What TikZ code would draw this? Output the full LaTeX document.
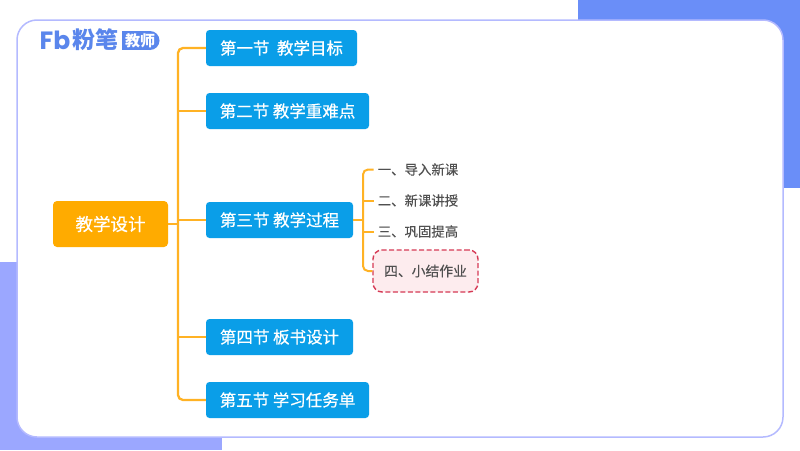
\documentclass[tikz,border=0pt]{standalone}
\usepackage{fontspec}
\setmainfont{Noto Sans CJK SC}
\newfontfamily\medfont[FakeBold=0.6]{Noto Sans CJK SC}
\newfontfamily\subfont[FakeBold=0.25]{Noto Sans CJK SC}
\newfontfamily\logofont{Poppins}
\definecolor{bandblue}{HTML}{6A8EF8}
\definecolor{bandviolet}{HTML}{9BA7FF}
\definecolor{cardline}{HTML}{B4BAFF}
\definecolor{secblue}{HTML}{0A9EE8}
\definecolor{rootorange}{HTML}{FFAB00}
\definecolor{linkorange}{HTML}{FFB224}
\definecolor{logoblue}{HTML}{5A86EC}
\definecolor{textgray}{HTML}{505050}
\definecolor{notered}{HTML}{D63A55}
\definecolor{notefill}{HTML}{FDECEE}
\tikzset{
	secnode/.style={fill=secblue,text=white,rounded corners=3.5pt,inner sep=0pt,minimum height=36pt,font=\medfont\fontsize{16.5}{19}\selectfont},
	rootnode/.style={fill=rootorange,text=white,rounded corners=4pt,inner sep=0pt,minimum width=115pt,minimum height=46pt,font=\medfont\fontsize{17.5}{20}\selectfont},
	subnode/.style={text=textgray,inner sep=0pt,font=\subfont\fontsize{13.4}{16}\selectfont},
	notenode/.style={subnode,draw=notered,fill=notefill,dash pattern=on 5pt off 2.5pt,line width=1.4pt,rounded corners=9pt,minimum width=105pt,minimum height=42pt,font=\subfont\fontsize{13.8}{16}\selectfont},
	link/.style={draw=linkorange,line width=2.3pt,rounded corners=5pt},
	sublink/.style={link,line width=2pt},
}
\begin{document}
\begin{tikzpicture}[x=1pt,y=-1pt]
	\useasboundingbox (0,0) rectangle (800,450);
	\fill[white] (0,0) rectangle (800,450);
	\fill[bandblue] (578,0) rectangle (800,188);
	\fill[bandviolet] (0,262) rectangle (222,450);
	\draw[cardline,fill=white,line width=1.5pt,rounded corners=20pt] (17,20) rectangle (783,437);
	% logo
	\node[text=logoblue,inner sep=0pt,font=\logofont\fontsize{25}{25}\selectfont\bfseries] (logofb) at (55,40) {Fb};
	\node[text=logoblue,inner sep=0pt,font=\fontsize{23}{23}\selectfont\bfseries] (logoname) at (95,40) {粉笔};
	\fill[logoblue] (122,31) rectangle (150,50);
	\fill[logoblue] (150,40.5) circle[radius=9.5];
	\node[text=white,inner sep=0pt,font=\fontsize{15}{15}\selectfont\bfseries] (logotag) at (140,40.5) {教师};
	% first level
	\node[rootnode] (root) at (110.5,224) {教学设计};
	\node[secnode,minimum width=151pt] (sec1) at (281.5,48) {第一节\ \ 教学目标};
	\node[secnode,minimum width=163pt] (sec2) at (287.5,111) {第二节 教学重难点};
	\node[secnode,minimum width=147pt] (sec3) at (279.5,220) {第三节 教学过程};
	\node[secnode,minimum width=147pt] (sec4) at (279.5,337) {第四节 板书设计};
	\node[secnode,minimum width=163pt] (sec5) at (287.5,400) {第五节 学习任务单};
	\coordinate (trunk) at (178,224);
	\draw[link] (sec1.west) -| (trunk) |- (sec5.west);
	\draw[link] (root.east) -- (trunk);
	\foreach \i in {2,3,4} {
		\draw[link] (sec\i.west) -- (sec\i.west -| trunk);
	}
	% second level
	\node[subnode] (sub1) at (418,169.5) {一、导入新课};
	\node[subnode] (sub2) at (418,200.5) {二、新课讲授};
	\node[subnode] (sub3) at (418,231.5) {三、巩固提高};
	\node[notenode] (sub4) at (425.5,271) {四、小结作业};
	\coordinate (fork) at (363,220);
	\draw[sublink] (sub1.west) ++(-4,0) -| (fork) |- (sub4.west);
	\draw[sublink] (sec3.east) -- (fork);
	\draw[sublink] (sub2.west) ++(-4,0) -- (363,200.5);
	\draw[sublink] (sub3.west) ++(-4,0) -- (363,231.5);
\end{tikzpicture}
\end{document}
